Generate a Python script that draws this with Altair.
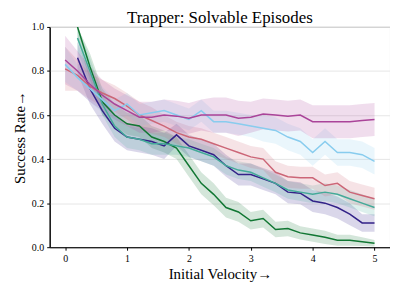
import altair as alt
import pandas as pd

xs = [round(0.2 * i, 1) for i in range(26)]
series = ["green", "navy", "teal", "pink", "lightblue", "magenta"]
colors = ["#117733", "#332288", "#44AA99", "#CC6677", "#88CCEE", "#AA4499"]

green = [None, 1.0, 0.82, 0.66, 0.60, 0.56, 0.55, 0.50, 0.48, 0.45, 0.37, 0.29, 0.24, 0.18, 0.16, 0.12,
         0.13, 0.08, 0.085, 0.065, 0.055, 0.045, 0.032, 0.032, 0.025, 0.018]
navy = [None, 0.86, 0.72, 0.62, 0.54, 0.50, 0.49, 0.48, 0.46, 0.51, 0.46, 0.44, 0.42, 0.37, 0.33, 0.33,
        0.31, 0.29, 0.25, 0.245, 0.21, 0.20, 0.18, 0.15, 0.11, 0.11]
teal = [None, 0.95, 0.80, 0.65, 0.55, 0.50, 0.49, 0.47, 0.47, 0.46, 0.45, 0.43, 0.41, 0.37, 0.35, 0.34,
        0.315, 0.29, 0.26, 0.25, 0.24, 0.25, 0.24, 0.22, 0.20, 0.18]
pink = [0.81, 0.78, 0.73, 0.70, 0.675, 0.64, 0.60, 0.575, 0.55, 0.52, 0.50, 0.49, 0.47, 0.45, 0.43, 0.41,
        0.40, 0.34, 0.32, 0.315, 0.315, 0.28, 0.29, 0.25, 0.235, 0.22]
lightblue = [0.83, 0.77, 0.72, 0.67, 0.62, 0.65, 0.60, 0.61, 0.62, 0.60, 0.58, 0.62, 0.57, 0.57, 0.56, 0.55,
             0.54, 0.53, 0.50, 0.48, 0.43, 0.48, 0.43, 0.43, 0.42, 0.39]
magenta = [0.85, 0.80, 0.74, 0.69, 0.65, 0.62, 0.59, 0.59, 0.60, 0.595, 0.585, 0.60, 0.60, 0.60, 0.585, 0.59,
           0.605, 0.60, 0.595, 0.60, 0.57, 0.57, 0.57, 0.57, 0.575, 0.58]

# band half-widths
green_err = [None, 0.06, 0.06, 0.06, 0.05, 0.05, 0.05, 0.05, 0.05, 0.05, 0.05, 0.05, 0.05, 0.045, 0.045, 0.04,
             0.04, 0.035, 0.035, 0.03, 0.03, 0.03, 0.025, 0.025, 0.02, 0.015]
navy_err = [None, 0.07, 0.07, 0.06, 0.06, 0.06, 0.06, 0.06, 0.06, 0.05, 0.05, 0.05, 0.05, 0.05, 0.05, 0.05,
            0.05, 0.05, 0.05, 0.05, 0.05, 0.05, 0.05, 0.05, 0.04, 0.04]
teal_err = [None, 0.06, 0.06, 0.05, 0.05, 0.05, 0.05, 0.05, 0.05, 0.04, 0.04, 0.04, 0.04, 0.04, 0.04, 0.04,
            0.04, 0.04, 0.04, 0.04, 0.04, 0.04, 0.04, 0.04, 0.04, 0.04]
pink_err = [0.1, 0.07, 0.06, 0.06, 0.06, 0.06, 0.06, 0.06, 0.05, 0.05, 0.05, 0.05, 0.05, 0.05, 0.05, 0.05,
            0.05, 0.05, 0.05, 0.05, 0.05, 0.05, 0.05, 0.05, 0.05, 0.05]
lightblue_err = [0.08, 0.06, 0.06, 0.06, 0.05, 0.05, 0.05, 0.05, 0.05, 0.05, 0.05, 0.05, 0.05, 0.05, 0.05, 0.05,
                 0.06, 0.06, 0.06, 0.06, 0.06, 0.06, 0.06, 0.06, 0.06, 0.06]
magenta_err = [0.11, 0.09, 0.08, 0.07, 0.07, 0.07, 0.07, 0.07, 0.07, 0.07, 0.07, 0.07, 0.08, 0.08, 0.08, 0.07,
               0.07, 0.07, 0.07, 0.07, 0.075, 0.075, 0.075, 0.075, 0.075, 0.075]

vals = [green, navy, teal, pink, lightblue, magenta]
errs = [green_err, navy_err, teal_err, pink_err, lightblue_err, magenta_err]

rows = []
for s, v, e in zip(series, vals, errs):
    for x, y, d in zip(xs, v, e):
        if y is None:
            continue
        rows.append({"series": s, "x": x, "y": y,
                     "lo": max(0.0, y - d), "hi": min(1.0, y + d)})
df = pd.DataFrame(rows)

font = "Liberation Serif"
xscale = alt.Scale(domain=[-0.25, 5.25], nice=False, zero=False)
yscale = alt.Scale(domain=[0, 1], nice=False)
cscale = alt.Scale(domain=series, range=colors)

base = alt.Chart(df)
band = base.mark_area(opacity=0.18, clip=True).encode(
    x=alt.X("x:Q", scale=xscale),
    y=alt.Y("lo:Q", scale=yscale),
    y2="hi:Q",
    color=alt.Color("series:N", scale=cscale, legend=None),
    detail="series:N",
)
line = base.mark_line(strokeWidth=1.5, clip=True).encode(
    x=alt.X("x:Q", scale=xscale,
            axis=alt.Axis(title="Initial Velocity→", values=[0, 1, 2, 3, 4, 5], format="d", grid=False)),
    y=alt.Y("y:Q", scale=yscale,
            axis=alt.Axis(title="Success Rate→", values=[0, 0.2, 0.4, 0.6, 0.8, 1.0], format=".1f", grid=True)),
    color=alt.Color("series:N", scale=cscale, legend=None),
)

chart = alt.layer(band, line).properties(
    width=343, height=222,
    title=alt.TitleParams("Trapper: Solvable Episodes", font=font, fontSize=17, fontWeight="normal",
                          color="#000", offset=-5),
    padding={"left": 4, "right": 0, "top": 0, "bottom": 0},
).configure_view(stroke="#000", strokeWidth=1).configure_axis(
    labelFont=font, titleFont=font, labelFontSize=10, titleFontSize=15, titleFontWeight="normal",
    labelColor="#000", titleColor="#000", domainColor="#000", tickColor="#000", tickSize=3,
    gridColor="#e6e6e6", labelPadding=3, titlePadding=4,
)

chart.save("out.html", embed_options={"renderer": "svg", "actions": False})
